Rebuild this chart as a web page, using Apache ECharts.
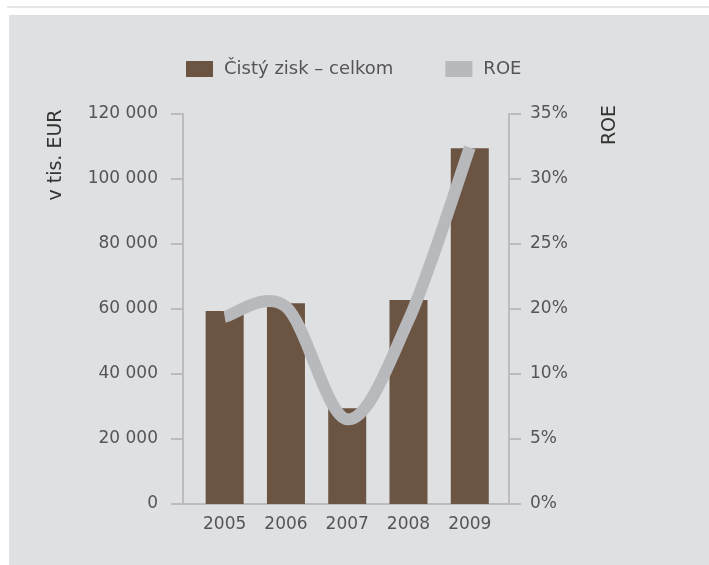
<!DOCTYPE html>
<html>
<head>
<meta charset="utf-8">
<script src="https://cdn.jsdelivr.net/npm/echarts@6/dist/echarts.min.js"></script>
<style>
html,body{margin:0;padding:0;background:#fff;}
#main{width:709px;height:565px;}
</style>
</head>
<body>
<div id="main"></div>
<script>
const years = [2005, 2006, 2007, 2008, 2009];
const profit = [59400, 61800, 29500, 62800, 109500];
const roe = [16.8, 17.7, 7.6, 16.5, 32.0];
const profitTicks = [0, 20000, 40000, 60000, 80000, 100000, 120000];
const roeTickLabels = ['0%', '5%', '10%', '20%', '25%', '30%', '35%'];
const roeMax = 35;
const seriesNames = ['Čistý zisk – celkom', 'ROE'];

const FONT = 'DejaVu Sans';
const TXT = '#555558';
const AX = '#bcbcbe';
const LINE_COLOR = '#b8b9bc';

const chart = echarts.init(document.getElementById('main'), null, {renderer: 'canvas'});
const roeStep = roeMax / (roeTickLabels.length - 1);

// Catmull-Rom style smooth curve through the data points (converted with the axis scales)
function renderRoe(params, api) {
  if (params.dataIndex !== 0) return null;
  const pts = years.map((y, i) => api.coord([y, roe[i]]));
  const n = pts.length;
  let d = 'M' + pts[0][0] + ' ' + pts[0][1];
  for (let i = 0; i < n - 1; i++) {
    const p0 = pts[Math.max(0, i - 1)];
    const p1 = pts[i];
    const p2 = pts[i + 1];
    const p3 = pts[Math.min(n - 1, i + 2)];
    const c1 = [p1[0] + (p2[0] - p0[0]) / 6, p1[1] + (p2[1] - p0[1]) / 6];
    const c2 = [p2[0] - (p3[0] - p1[0]) / 6, p2[1] - (p3[1] - p1[1]) / 6];
    d += ' C' + c1[0] + ' ' + c1[1] + ' ' + c2[0] + ' ' + c2[1] + ' ' + p2[0] + ' ' + p2[1];
  }
  return {
    type: 'path',
    shape: {pathData: d},
    style: {fill: 'none', stroke: LINE_COLOR, lineWidth: 12, lineCap: 'butt', lineJoin: 'round'}
  };
}

chart.setOption({
  animation: false,
  backgroundColor: '#ffffff',
  graphic: [
    {type: 'rect', shape: {x: 7, y: 6, width: 702, height: 2}, style: {fill: '#e6e6e7'}, z: -10},
    {type: 'rect', shape: {x: 9, y: 15, width: 700, height: 550}, style: {fill: '#dfe0e2'}, z: -10},
    {type: 'text', x: 56, y: 155, rotation: Math.PI / 2, style: {text: 'v tis. EUR', fill: '#333', font: '19px "' + FONT + '"', align: 'center', verticalAlign: 'middle'}},
    {type: 'text', x: 610, y: 125, rotation: Math.PI / 2, style: {text: 'ROE', fill: '#333', font: '19px "' + FONT + '"', align: 'center', verticalAlign: 'middle'}}
  ],
  legend: {
    top: 60,
    left: 186,
    padding: 0,
    itemWidth: 27,
    itemHeight: 16,
    itemGap: 52,
    icon: 'rect',
    textStyle: {fontFamily: FONT, fontSize: 18, color: TXT, padding: [0, 0, 0, 6]},
    data: seriesNames
  },
  grid: {left: 183, right: 200, top: 114, bottom: 61, containLabel: false},
  xAxis: {
    type: 'value',
    min: 2004.32,
    max: 2009.64,
    axisLine: {show: true, lineStyle: {color: AX, width: 2}},
    axisTick: {show: false},
    splitLine: {show: false},
    axisLabel: {
      customValues: years,
      margin: 12,
      fontFamily: FONT, fontSize: 17, color: TXT,
      formatter: v => String(Math.round(v))
    }
  },
  yAxis: [
    {
      type: 'value',
      min: profitTicks[0],
      max: profitTicks[profitTicks.length - 1],
      interval: profitTicks[1] - profitTicks[0],
      axisLine: {show: true, lineStyle: {color: AX, width: 2}},
      axisTick: {show: true, length: 12, lineStyle: {color: AX, width: 2}},
      splitLine: {show: false},
      axisLabel: {
        margin: 25, fontFamily: FONT, fontSize: 17, color: TXT,
        formatter: v => v === 0 ? '0' : String(v).replace(/\B(?=(\d{3})+(?!\d))/g, ' ')
      }
    },
    {
      type: 'value',
      position: 'right',
      min: 0,
      max: roeMax,
      interval: roeStep,
      axisLine: {show: true, lineStyle: {color: AX, width: 2}},
      axisTick: {show: true, length: 12, lineStyle: {color: AX, width: 2}},
      splitLine: {show: false},
      axisLabel: {
        margin: 21, fontFamily: FONT, fontSize: 17, color: TXT,
        formatter: v => roeTickLabels[Math.round(v / roeStep)] || ''
      }
    }
  ],
  series: [
    {
      name: seriesNames[0],
      type: 'bar',
      barWidth: 38,
      itemStyle: {color: '#6b5442'},
      data: years.map((y, i) => [y, profit[i]]),
      z: 2
    },
    {
      name: seriesNames[1],
      type: 'custom',
      yAxisIndex: 1,
      itemStyle: {color: LINE_COLOR},
      renderItem: renderRoe,
      clip: false,
      data: years.map((y, i) => [y, roe[i]]),
      z: 3
    }
  ]
});
</script>
</body>
</html>
